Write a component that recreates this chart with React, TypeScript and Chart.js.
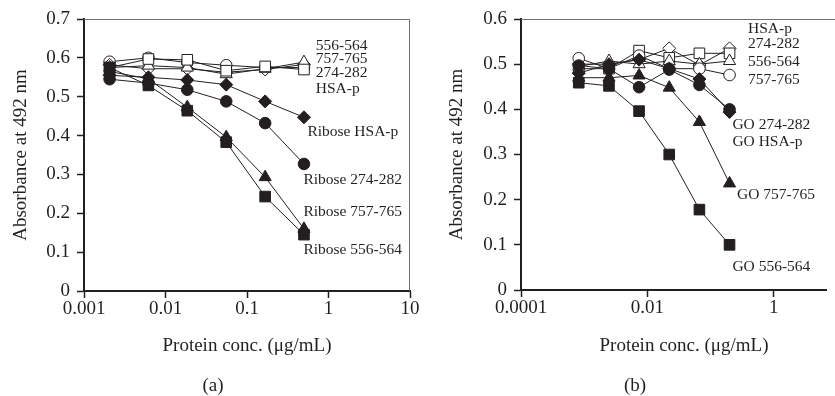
import React, { useEffect, useRef } from 'react';
import { Chart, registerables } from 'chart.js';

Chart.register(...registerables);

const FONT = "'Liberation Serif', 'Times New Roman', serif";
const INK = '#231f20';
const FRAME = '#6d6e71';

// ---------- Panel (a) data ----------
const concA = [0.00206, 0.00617, 0.0185, 0.0556, 0.167, 0.5];
const a556 = [0.575, 0.597, 0.595, 0.567, 0.578, 0.570];
const a757 = [0.575, 0.580, 0.575, 0.558, 0.572, 0.589];
const a274 = [0.590, 0.600, 0.588, 0.581, 0.575, 0.575];
const aHSA = [0.582, 0.572, 0.572, 0.563, 0.570, 0.583];
const aRib556 = [0.575, 0.529, 0.464, 0.383, 0.243, 0.145];
const aRib757 = [0.565, 0.546, 0.473, 0.396, 0.293, 0.160];
const aRib274 = [0.545, 0.535, 0.518, 0.488, 0.432, 0.327];
const aRibHSA = [0.555, 0.550, 0.543, 0.531, 0.488, 0.447];

const xTicksA = [0.001, 0.01, 0.1, 1, 10];
const xTickLabelsA = ['0.001', '0.01', '0.1', '1', '10'];
const yTicksA = [0, 0.1, 0.2, 0.3, 0.4, 0.5, 0.6, 0.7];
const yTickLabelsA = ['0', '0.1', '0.2', '0.3', '0.4', '0.5', '0.6', '0.7'];

const labelsA = [
  { text: '556-564', x: 0.697, y: 0.632 },
  { text: '757-765', x: 0.697, y: 0.596 },
  { text: '274-282', x: 0.697, y: 0.560 },
  { text: 'HSA-p', x: 0.697, y: 0.521 },
  { text: 'Ribose HSA-p', x: 0.551, y: 0.409 },
  { text: 'Ribose 274-282', x: 0.492, y: 0.285 },
  { text: 'Ribose 757-765', x: 0.492, y: 0.203 },
  { text: 'Ribose 556-564', x: 0.492, y: 0.106 },
];

// ---------- Panel (b) data ----------
const concB = [0.00082, 0.00247, 0.0074, 0.0222, 0.0667, 0.2];
const bHSA = [0.500, 0.500, 0.510, 0.535, 0.498, 0.535];
const b274 = [0.490, 0.490, 0.530, 0.514, 0.524, 0.524];
const b556 = [0.495, 0.507, 0.500, 0.507, 0.500, 0.507];
const b757 = [0.513, 0.490, 0.519, 0.490, 0.490, 0.476];
const bGO274 = [0.497, 0.490, 0.449, 0.488, 0.454, 0.400];
const bGOHSA = [0.480, 0.500, 0.510, 0.490, 0.467, 0.394];
const bGO757 = [0.470, 0.470, 0.475, 0.448, 0.372, 0.236];
const bGO556 = [0.459, 0.452, 0.396, 0.300, 0.178, 0.100];

const xTicksB = [0.0001, 0.01, 1];
const xTickLabelsB = ['0.0001', '0.01', '1'];
const yTicksB = [0, 0.1, 0.2, 0.3, 0.4, 0.5, 0.6];
const yTickLabelsB = ['0', '0.1', '0.2', '0.3', '0.4', '0.5', '0.6'];

const labelsB = [
  { text: 'HSA-p', x: 0.392, y: 0.579 },
  { text: '274-282', x: 0.392, y: 0.545 },
  { text: '556-564', x: 0.392, y: 0.504 },
  { text: '757-765', x: 0.392, y: 0.465 },
  { text: 'GO 274-282', x: 0.222, y: 0.365 },
  { text: 'GO HSA-p', x: 0.222, y: 0.328 },
  { text: 'GO 757-765', x: 0.262, y: 0.210 },
  { text: 'GO 556-564', x: 0.222, y: 0.052 },
];

const RADIUS: Record<string, number> = { rect: 7.5, circle: 5.8, triangle: 7, rectRot: 6.5 };

type Series = { name: string; values: number[]; style: string; filled: boolean };

const panelA = {
  width: 420,
  height: 396,
  conc: concA,
  xMin: 0.001,
  xMax: 10,
  yMax: 0.7,
  xTicks: xTicksA,
  xTickLabels: xTickLabelsA,
  yTicks: yTicksA,
  yTickLabels: yTickLabelsA,
  labels: labelsA,
  series: [
    { name: 'Ribose 556-564', values: aRib556, style: 'rect', filled: true },
    { name: 'Ribose 757-765', values: aRib757, style: 'triangle', filled: true },
    { name: 'Ribose 274-282', values: aRib274, style: 'circle', filled: true },
    { name: 'Ribose HSA-p', values: aRibHSA, style: 'rectRot', filled: true },
    { name: '556-564', values: a556, style: 'rect', filled: false },
    { name: '757-765', values: a757, style: 'triangle', filled: false },
    { name: 'HSA-p', values: aHSA, style: 'rectRot', filled: false },
    { name: '274-282', values: a274, style: 'circle', filled: false },
  ] as Series[],
  layout: { left: 84, right: 10, top: 19, bottom: 105, yTitleX: 21, xTitleX: 247, xTitleY: 346, letterX: 213, letterY: 386, rightFrame: true },
  letter: '(a)',
};

const panelB = {
  width: 415,
  height: 396,
  conc: concB,
  xMin: 0.0001,
  xMax: 6.85,
  yMax: 0.6,
  xTicks: xTicksB,
  xTickLabels: xTickLabelsB,
  yTicks: yTicksB,
  yTickLabels: yTickLabelsB,
  labels: labelsB,
  series: [
    { name: 'GO 556-564', values: bGO556, style: 'rect', filled: true },
    { name: 'GO 757-765', values: bGO757, style: 'triangle', filled: true },
    { name: 'GO HSA-p', values: bGOHSA, style: 'rectRot', filled: true },
    { name: 'GO 274-282', values: bGO274, style: 'circle', filled: true },
    { name: '757-765', values: b757, style: 'circle', filled: false },
    { name: '556-564', values: b556, style: 'triangle', filled: false },
    { name: '274-282', values: b274, style: 'rect', filled: false },
    { name: 'HSA-p', values: bHSA, style: 'rectRot', filled: false },
  ] as Series[],
  layout: { left: 101, right: 0, top: 19, bottom: 106, yTitleX: 37, xTitleX: 264, xTitleY: 346, letterX: 215, letterY: 386, rightFrame: false },
  letter: '(b)',
};

type Panel = typeof panelA;

function makeTextPlugin(p: Panel) {
  return {
    id: 'panelText',
    afterDraw(chart: any) {
      const { ctx, chartArea, scales } = chart;
      const L = p.layout;
      ctx.save();
      // thin frame (top / right)
      ctx.strokeStyle = FRAME;
      ctx.lineWidth = 1;
      ctx.beginPath();
      ctx.moveTo(chartArea.left, chartArea.top + 0.5);
      if (L.rightFrame) {
        ctx.lineTo(chartArea.right - 0.5, chartArea.top + 0.5);
        ctx.lineTo(chartArea.right - 0.5, chartArea.bottom);
      } else {
        ctx.lineTo(p.width, chartArea.top + 0.5);
      }
      ctx.stroke();

      ctx.fillStyle = INK;
      // annotation labels
      ctx.font = `15.5px ${FONT}`;
      ctx.textAlign = 'left';
      ctx.textBaseline = 'middle';
      p.labels.forEach((lb) => {
        ctx.fillText(lb.text, scales.x.getPixelForValue(lb.x), scales.y.getPixelForValue(lb.y));
      });

      // axis titles
      ctx.font = `19px ${FONT}`;
      ctx.textAlign = 'center';
      ctx.fillText('Protein conc. (\u03bcg/mL)', L.xTitleX, L.xTitleY);
      ctx.fillText(p.letter, L.letterX, L.letterY);
      ctx.translate(L.yTitleX, (chartArea.top + chartArea.bottom) / 2);
      ctx.rotate(-Math.PI / 2);
      ctx.fillText('Absorbance at 492 nm', 0, 0);
      ctx.restore();
    },
  };
}

function buildChart(canvas: HTMLCanvasElement, p: Panel) {
  const L = p.layout;
  return new Chart(canvas, {
    type: 'line',
    data: {
      datasets: p.series.map((s) => ({
        label: s.name,
        data: p.conc.map((x, i) => ({ x, y: s.values[i] })),
        borderColor: INK,
        borderWidth: 1,
        pointStyle: s.style as any,
        pointRadius: RADIUS[s.style],
        pointBackgroundColor: s.filled ? INK : '#ffffff',
        pointBorderColor: INK,
        pointBorderWidth: 1,
        fill: false,
        tension: 0,
      })),
    },
    options: {
      responsive: false,
      animation: false,
      devicePixelRatio: 1,
      layout: { padding: { left: 0, right: L.right, top: L.top, bottom: 0 } },
      plugins: { legend: { display: false }, tooltip: { enabled: false } },
      scales: {
        x: {
          type: 'logarithmic',
          min: p.xMin,
          max: p.xMax,
          afterBuildTicks: (s: any) => {
            s.ticks = p.xTicks.map((v) => ({ value: v }));
          },
          afterFit: (s: any) => {
            s.height = L.bottom;
            s.paddingLeft = 0;
            s.paddingRight = 0;
          },
          ticks: {
            autoSkip: false,
            maxRotation: 0,
            minRotation: 0,
            padding: 0,
            color: INK,
            font: { family: FONT, size: 19 },
            callback: (_v: any, i: number) => p.xTickLabels[i],
          },
          grid: { display: true, drawOnChartArea: false, drawTicks: true, tickLength: 7, tickColor: INK, tickWidth: 1.5, color: INK },
          border: { display: true, color: INK, width: 2 },
        },
        y: {
          type: 'linear',
          min: 0,
          max: p.yMax,
          afterBuildTicks: (s: any) => {
            s.ticks = p.yTicks.map((v) => ({ value: v }));
          },
          afterFit: (s: any) => {
            s.width = L.left;
            s.paddingTop = 0;
            s.paddingBottom = 0;
          },
          ticks: {
            padding: 7,
            color: INK,
            font: { family: FONT, size: 19 },
            callback: (_v: any, i: number) => p.yTickLabels[i],
          },
          grid: { display: true, drawOnChartArea: false, drawTicks: true, tickLength: 7, tickColor: INK, tickWidth: 1.5, color: INK },
          border: { display: true, color: INK, width: 2 },
        },
      },
    } as any,
    plugins: [makeTextPlugin(p)],
  });
}

function PanelChart({ p, left }: { p: Panel; left: number }) {
  const ref = useRef<HTMLCanvasElement | null>(null);
  useEffect(() => {
    if (!ref.current) return;
    const chart = buildChart(ref.current, p);
    return () => chart.destroy();
  }, [p]);
  return (
    <canvas
      ref={ref}
      width={p.width}
      height={p.height}
      style={{ position: 'absolute', left, top: 0, width: p.width, height: p.height }}
    />
  );
}

export default function App() {
  return (
    <div style={{ position: 'fixed', left: 0, top: 0, width: 835, height: 396, background: '#ffffff', overflow: 'hidden' }}>
      <PanelChart p={panelA} left={0} />
      <PanelChart p={panelB as any} left={420} />
    </div>
  );
}
